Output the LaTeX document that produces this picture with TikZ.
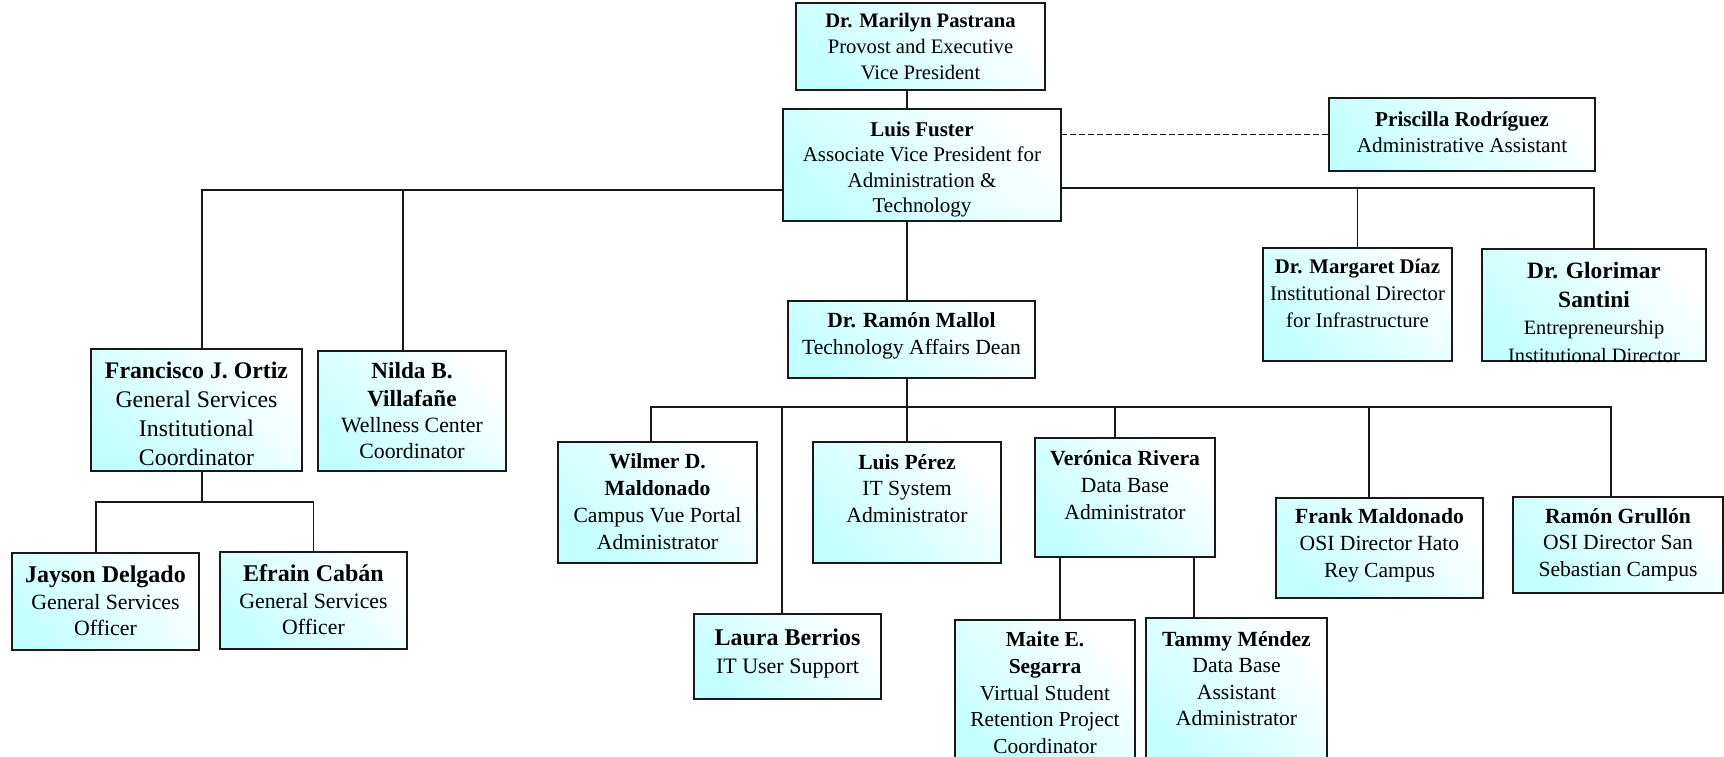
\documentclass[tikz,border=0pt]{standalone}
\usepackage{fontspec}
\setmainfont{Liberation Serif}
\usetikzlibrary{calc}
\definecolor{cy}{RGB}{196,255,255}
\definecolor{ln}{RGB}{25,25,25}
\tikzset{
  obx/.style={draw=ln, line width=1pt, inner sep=0pt, outer sep=0pt,
    top color=white, bottom color=cy, shading angle=-45},
  conn/.style={draw=ln, line width=0.8pt},
  dconn/.style={draw=ln, line width=0.85pt, dash pattern=on 3pt off 1.5pt}
}
\newcommand\fs[2]{\fontsize{#1}{#2}\selectfont}
\newcommand\obox[7]{\node[obx, minimum width=#4*0.5pt, minimum height=#5*0.5pt] (#1) at (#2,#3)
  {\parbox[c][\dimexpr#5pt/2\relax][t]{\dimexpr#4pt/2\relax}{\centering\vspace*{#6pt}#7}};}
\begin{document}
\begin{tikzpicture}[x=0.5pt, y=-0.5pt]
\clip (0,0) rectangle (1724,756);
% boxes
\obox{pastrana}{920.5}{46.5}{249}{87}{5.3}{\fs{10.3}{12.8}\textbf{Dr. Marilyn Pastrana}\\Provost and Executive\\Vice President}
\obox{fuster}{922}{165}{278}{112}{6.3}{\fs{10.5}{12.8}\textbf{Luis Fuster}\\Associate Vice President for\\Administration \&\\Technology}
\obox{priscilla}{1462}{134.5}{266}{73}{7}{\fs{10.6}{13}\textbf{Priscilla Rodríguez}\\Administrative Assistant}
\obox{margaret}{1357.5}{304.5}{189}{113}{5.5}{\fs{10.4}{13.5}\textbf{Dr. Margaret Díaz}\\Institutional Director\\for Infrastructure}
\obox{glorimar}{1594}{305}{224}{112}{6.5}{{\fs{11.7}{14.5}\textbf{Dr. Glorimar\\Santini}\par}\fs{10.2}{13.8}Entrepreneurship\\Institutional Director}
\obox{francisco}{196.5}{410}{211}{122}{6.5}{\fs{11.9}{14.5}\textbf{Francisco J. Ortiz}\\General Services\\Institutional\\Coordinator}
\obox{nilda}{412}{411}{188}{120}{5.5}{{\fs{11.6}{14}\textbf{Nilda B.\\Villafañe}\par}\fs{10.9}{13.2}Wellness Center\\Coordinator}
\obox{jayson}{105.5}{601.5}{187}{97}{6.5}{{\fs{12}{13.2}\textbf{Jayson Delgado}\par}\fs{10.9}{13.2}General Services\\Officer}
\obox{efrain}{313.5}{600.5}{187}{97}{6.5}{{\fs{12}{13.2}\textbf{Efrain Cabán}\par}\fs{10.9}{13.2}General Services\\Officer}
\obox{mallol}{911.5}{339.5}{247}{77}{5.5}{\fs{10.8}{13.5}\textbf{Dr. Ramón Mallol}\\Technology Affairs Dean}
\obox{wilmer}{657.5}{502.5}{199}{121}{6}{\fs{10.8}{13.4}\textbf{Wilmer D.\\Maldonado}\\Campus Vue Portal\\Administrator}
\obox{luisp}{907}{502.5}{188}{121}{6}{\fs{10.8}{13.4}\textbf{Luis Pérez}\\IT System\\Administrator}
\obox{veronica}{1125}{497.5}{180}{119}{6.3}{\fs{10.8}{13.4}\textbf{Verónica Rivera}\\Data Base\\Administrator}
\obox{laura}{787.5}{656.5}{187}{85}{7.5}{{\fs{12}{14}\textbf{Laura Berrios}\par}\fs{11}{14}IT User Support}
\obox{maite}{1045}{695}{180}{150}{6}{\fs{10.7}{13.3}\textbf{Maite E.\\Segarra}\\Virtual Student\\Retention Project\\Coordinator}
\obox{tammy}{1236.5}{694}{181}{152}{6.5}{\fs{10.8}{13.3}\textbf{Tammy Méndez}\\Data Base\\Assistant\\Administrator}
\obox{frank}{1379.5}{548}{207}{100}{5.5}{\fs{10.8}{13.3}\textbf{Frank Maldonado}\\OSI Director Hato\\Rey Campus}
\obox{ramon}{1618}{545}{210}{96}{5.5}{\fs{10.8}{13.3}\textbf{Ramón Grullón}\\OSI Director San\\Sebastian Campus}
% helper coordinates
\coordinate (spx) at (907,0);
\coordinate (rb) at (0,188);
\coordinate (lb) at (0,190);
\coordinate (fb) at (0,502);
\coordinate (mb) at (0,407);
\coordinate (fxd) at ($(francisco.north)+(5.5,0)$);
\coordinate (nxd) at ($(nilda.north)+(-9,0)$);
\coordinate (jd) at ($(jayson.north)+(-9.5,0)$);
\coordinate (wd) at ($(wilmer.north)+(-6.5,0)$);
\coordinate (ld) at ($(laura.north)+(-5.5,0)$);
\coordinate (vd) at ($(veronica.north)+(-10,0)$);
\coordinate (fd) at ($(frank.north)+(-10.5,0)$);
\coordinate (rd) at ($(ramon.north)+(-7,0)$);
\coordinate (md) at ($(maite.north)+(15,0)$);
\coordinate (td) at ($(tammy.north)+(-42.5,0)$);
% connectors
\draw[conn] (pastrana.south -| spx) -- (fuster.north -| spx);
\draw[conn] (fuster.south -| spx) -- (mallol.north -| spx);
\draw[dconn] (fuster.east |- priscilla.west) -- (priscilla.west);
\draw[conn] (fuster.east |- rb) -| (glorimar.north);
\draw[conn] (margaret.north |- rb) -- (margaret.north);
\draw[conn] (fuster.west |- lb) -- (fxd |- lb) -- (fxd);
\draw[conn] (nxd |- lb) -- (nxd);
\draw[conn] (francisco.south -| fxd) -- (fxd |- fb);
\draw[conn] (jd) -- (jd |- fb) -| (efrain.north);
\draw[conn] (mallol.south -| spx) -- (spx |- mb);
\draw[conn] (wd) -- (wd |- mb) -- (rd |- mb) -- (rd);
\draw[conn] (ld |- mb) -- (ld);
\draw[conn] (spx |- mb) -- (luisp.north);
\draw[conn] (vd |- mb) -- (vd);
\draw[conn] (fd |- mb) -- (fd);
\draw[conn] (veronica.south -| md) -- (md);
\draw[conn] (veronica.south -| td) -- (td);
\end{tikzpicture}
\end{document}
